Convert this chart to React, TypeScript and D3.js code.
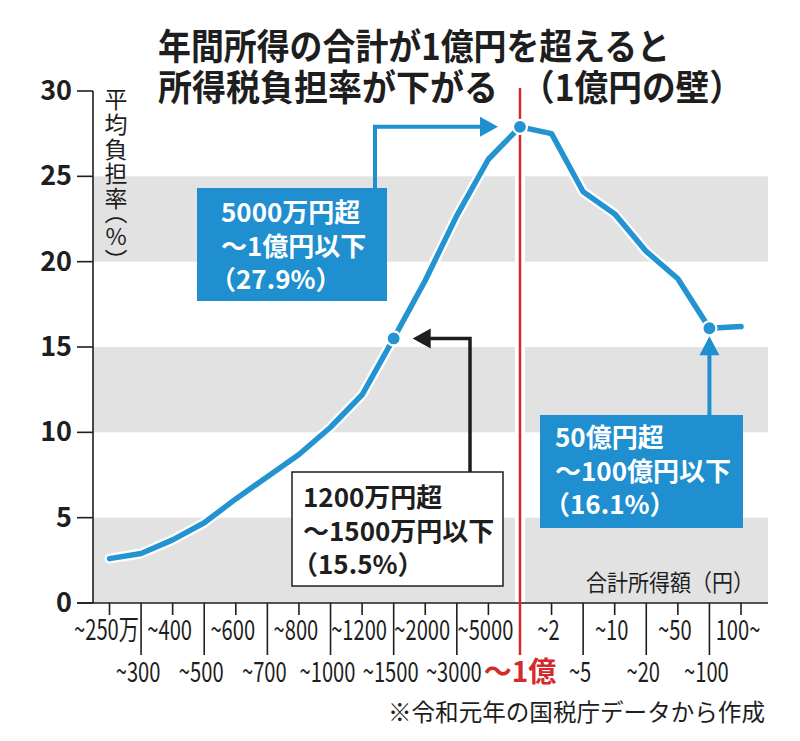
import React from 'react';
import * as d3 from 'd3';

const CATEGORIES = ["~250万", "~300", "~400", "~500", "~600", "~700", "~800", "~1000", "~1200", "~1500", "~2000", "~3000", "~5000", "～1億", "~2", "~5", "~10", "~20", "~50", "~100", "100~"];
const RATES = [2.6, 2.9, 3.7, 4.7, 6.1, 7.4, 8.7, 10.3, 12.2, 15.5, 18.9, 22.7, 26.0, 27.9, 27.5, 24.1, 22.8, 20.6, 19.0, 16.1, 16.2];
const Y_TICKS = [0, 5, 10, 15, 20, 25, 30];
const BAND_RANGES = [[0, 5], [10, 15], [20, 25]];
const WALL_CATEGORY = "～1億";
const NOTE_PEAK_CAT = "～1億";
const NOTE_MID_CAT = "~1500";
const NOTE_TOP_CAT = "~100";
const NOTE_PEAK = ["5000万円超", "～1億円以下", "（27.9%）"];
const NOTE_MID = ["1200万円超", "～1500万円以下", "（15.5%）"];
const NOTE_TOP = ["50億円超", "～100億円以下", "（16.1%）"];
const TITLE_1 = "年間所得の合計が1億円を超えると";
const TITLE_2A = "所得税負担率が下がる";
const TITLE_2B = "（1億円の壁）";
const Y_LABEL = "平均負担率（%）";
const X_LABEL = "合計所得額（円）";
const SOURCE = "※令和元年の国税庁データから作成";

const FONT = "'Noto Sans CJK JP', 'Noto Sans', sans-serif";
const BLUE = "#2393d1";
const BOX_BLUE = "#1f8fcf";
const RED = "#d42a2a";
const GRAY = "#e2e2e2";
const INK = "#1e1e1e";

function NoteText({ lines, x, y0, fill }: { lines: string[]; x: number; y0: number; fill: string }) {
  return (
    <>
      {lines.map((t, i) => (
        <text key={i} x={x} y={y0 + i * 33.5} dx={t.startsWith("（") ? -11 : 0}
          fontSize={26} fontWeight={700} fill={fill} fontFamily={FONT}>{t}</text>
      ))}
    </>
  );
}

export default function App() {
  const W = 800, H = 741;
  const x = d3.scalePoint<string>().domain(CATEGORIES).range([109.5, 741]);
  const y = d3.scaleLinear().domain([0, 30]).range([603, 91]);
  const left = 93, right = 768;
  const data = CATEGORIES.map((c, i) => ({ c, v: RATES[i] }));
  const line = d3.line<{ c: string; v: number }>().x(d => x(d.c)!).y(d => y(d.v));
  const path = line(data)!;
  const wallX = x(WALL_CATEGORY)!;
  const idx = (c: string) => CATEGORIES.indexOf(c);
  const marked = [NOTE_MID_CAT, NOTE_PEAK_CAT, NOTE_TOP_CAT].map(c => ({ cx: x(c)!, cy: y(RATES[idx(c)]) }));

  const pPeak = { x: x(NOTE_PEAK_CAT)!, y: y(RATES[idx(NOTE_PEAK_CAT)]) };
  const pMid = { x: x(NOTE_MID_CAT)!, y: y(RATES[idx(NOTE_MID_CAT)]) };
  const pTop = { x: x(NOTE_TOP_CAT)!, y: y(RATES[idx(NOTE_TOP_CAT)]) };

  const b1 = { x: 197, y: 188, w: 190, h: 113 };
  const t1 = pPeak.x - 22;
  const c1x = 375;
  const b2 = { x: 292, y: 472, w: 211, h: 114 };
  const t2 = pMid.x + 19;
  const c2x = 470;
  const b3 = { x: 540, y: 415, w: 203, h: 113 };
  const t3 = pTop.y + 8;

  return (
    <svg width={W} height={H} style={{ position: 'absolute', left: 0, top: 0, background: '#fff' }} fontFamily={FONT}>
      <rect x={0} y={0} width={W} height={H} fill="#fff" />
      {/* title */}
      <text x={158} y={60} fontSize={36} fontWeight={700} fill={INK} textLength={512} lengthAdjust="spacingAndGlyphs">{TITLE_1}</text>
      <text x={158} y={101} fontSize={36} fontWeight={700} fill={INK} textLength={340} lengthAdjust="spacingAndGlyphs">{TITLE_2A}</text>
      <text x={521} y={101} fontSize={36} fontWeight={700} fill={INK} textLength={222} lengthAdjust="spacingAndGlyphs">{TITLE_2B}</text>

      {/* bands */}
      {BAND_RANGES.map(([a, b], i) => (
        <rect key={i} x={left} y={y(b)} width={right - left} height={y(a) - y(b)} fill={GRAY} />
      ))}
      <line x1={wallX} x2={wallX} y1={y(30)} y2={y(0)} stroke="#fff" strokeWidth={10} />

      {/* y axis */}
      <line x1={left} x2={left} y1={y(30)} y2={y(0)} stroke={INK} strokeWidth={1.6} />
      {Y_TICKS.map(t => (
        <g key={t}>
          <line x1={77} x2={left} y1={y(t)} y2={y(t)} stroke={INK} strokeWidth={1.6} />
          <text x={72} y={y(t) + 9} textAnchor="end" fontSize={27} fontWeight={700} fill={INK}>{t}</text>
        </g>
      ))}
      <text x={116} y={88} fontSize={23} fill={INK} letterSpacing={1.7}
        style={{ writingMode: 'vertical-rl', textOrientation: 'upright', fontFeatureSettings: '"vpal"' }}>{Y_LABEL}</text>

      {/* x axis */}
      <line x1={77} x2={right} y1={y(0)} y2={y(0)} stroke={INK} strokeWidth={1.6} />
      {CATEGORIES.map((c, i) => {
        const px = x(c)!;
        const odd = i % 2 === 1;
        if (c === WALL_CATEGORY) {
          return (
            <text key={c} x={px} y={682} textAnchor="middle" fontSize={28} fontWeight={700} fill={RED}>{c}</text>
          );
        }
        return (
          <g key={c}>
            <line x1={px} x2={px} y1={y(0)} y2={odd ? 655 : 615} stroke={INK} strokeWidth={1.6} />
            <g transform={`translate(${px - 3},${odd ? 682 : 640}) scale(0.72,1)`}>
              <text x={0} y={0} textAnchor="middle" fontSize={28} fill={INK}>{c}</text>
            </g>
          </g>
        );
      })}

      {/* wall line */}
      <line x1={wallX} x2={wallX} y1={88} y2={655} stroke={RED} strokeWidth={2.5} />

      {/* series */}
      <path d={path} fill="none" stroke="#fff" strokeWidth={10} strokeLinejoin="round" strokeLinecap="round" />
      <path d={path} fill="none" stroke={BLUE} strokeWidth={5.5} strokeLinejoin="round" strokeLinecap="round" />
      {marked.map((m, i) => (
        <circle key={i} cx={m.cx} cy={m.cy} r={7} fill={BLUE} stroke="#fff" strokeWidth={2.2} />
      ))}

      {/* annotation 1 */}
      <polyline points={`${c1x},${b1.y} ${c1x},${pPeak.y} ${t1 - 16},${pPeak.y}`} fill="none" stroke={BOX_BLUE} strokeWidth={4} />
      <polygon points={`${t1},${pPeak.y} ${t1 - 18},${pPeak.y - 10} ${t1 - 18},${pPeak.y + 10}`} fill={BOX_BLUE} />
      <rect x={b1.x} y={b1.y} width={b1.w} height={b1.h} fill={BOX_BLUE} />
      <NoteText lines={NOTE_PEAK} x={221} y0={222} fill="#fff" />

      {/* annotation 2 */}
      <polyline points={`${c2x},${b2.y} ${c2x},${pMid.y} ${t2 + 16},${pMid.y}`} fill="none" stroke={INK} strokeWidth={3.5} />
      <polygon points={`${t2},${pMid.y} ${t2 + 18},${pMid.y - 10} ${t2 + 18},${pMid.y + 10}`} fill={INK} />
      <rect x={b2.x} y={b2.y} width={b2.w} height={b2.h} fill="#fff" stroke={INK} strokeWidth={1.5} />
      <NoteText lines={NOTE_MID} x={303} y0={507} fill={INK} />

      {/* annotation 3 */}
      <line x1={pTop.x} x2={pTop.x} y1={b3.y} y2={t3 + 16} stroke={BOX_BLUE} strokeWidth={4} />
      <polygon points={`${pTop.x},${t3} ${pTop.x - 10},${t3 + 19} ${pTop.x + 10},${t3 + 19}`} fill={BOX_BLUE} />
      <rect x={b3.x} y={b3.y} width={b3.w} height={b3.h} fill={BOX_BLUE} />
      <NoteText lines={NOTE_TOP} x={555} y0={447} fill="#fff" />

      {/* axis title & source */}
      <text x={586} y={591} fontSize={23} fill={INK} textLength={168} lengthAdjust="spacingAndGlyphs">{X_LABEL}</text>
      <text x={388} y={721} fontSize={24} fill={INK} textLength={377} lengthAdjust="spacingAndGlyphs">{SOURCE}</text>
    </svg>
  );
}
